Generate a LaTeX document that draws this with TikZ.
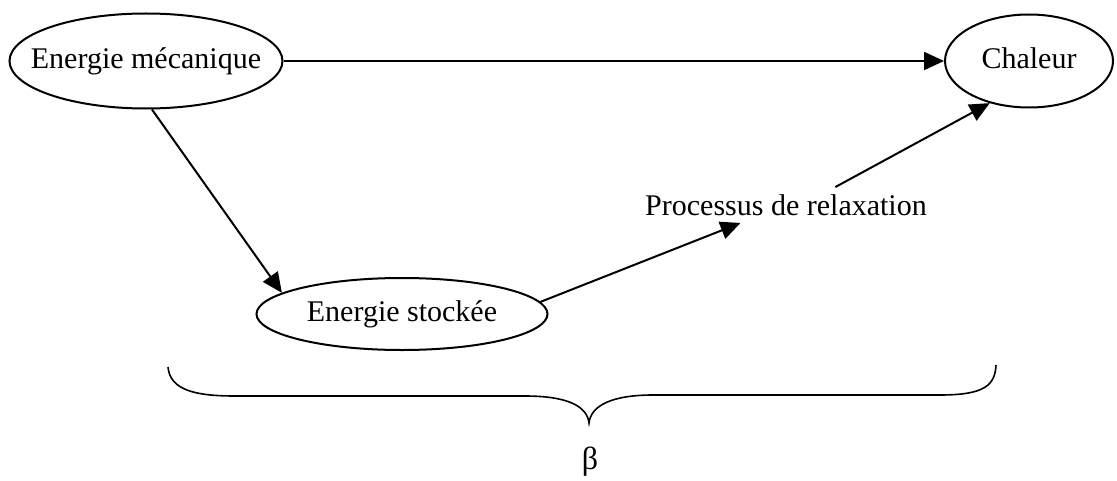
\documentclass[tikz,border=0pt]{standalone}
\usepackage{fontspec}
\setmainfont{Liberation Serif}
\usetikzlibrary{arrows.meta,shapes.geometric}
\tikzset{
  ell/.style={draw, ellipse, line width=1pt, inner sep=0pt, font=\fontsize{15}{18}\selectfont},
  lbl/.style={font=\fontsize{15}{18}\selectfont, inner sep=3.5pt},
  arr/.style={line width=1pt, -{Triangle[length=10pt,width=9pt]}},
  bracepath/.style={line width=0.8pt}
}
\begin{document}
\begin{tikzpicture}[x=0.5pt,y=-0.5pt]
\useasboundingbox (0,0) rectangle (1117,481);
\node[ell, minimum width=136.5pt, minimum height=47.5pt] (mec) at (146,61) {\makebox[0pt]{Energie mécanique}};
\node[ell, minimum width=84pt, minimum height=46.5pt] (chal) at (1029,61) {\makebox[0pt]{\raisebox{3pt}{Chaleur}}};
\node[ell, minimum width=145.5pt, minimum height=36pt] (sto) at (402,314) {\makebox[0pt]{Energie stockée}};
\node[lbl] (rel) at (786,205) {Processus de relaxation};
\node[lbl, font=\fontsize{16}{18}\selectfont] (beta) at (590,462) {β};
\draw[arr] (mec.east) -- (chal.west);
\draw[arr] (mec.-83) -- (sto.170);
\draw[arr] (sto.5) -- (rel);
\draw[arr] (rel.20) -- (chal.227);
\coordinate (bl) at (168,367);
\coordinate (bt) at (589,423);
\coordinate (br) at (996,365);
\draw[bracepath] (bl) .. controls (170,390) and (195,396) .. (235,396) -- (525,396)
  .. controls (565,396) and (587,405) .. (bt)
  .. controls (591,405) and (613,395) .. (653,395) -- (940,395)
  .. controls (985,395) and (995,385) .. (br);
\end{tikzpicture}
\end{document}
